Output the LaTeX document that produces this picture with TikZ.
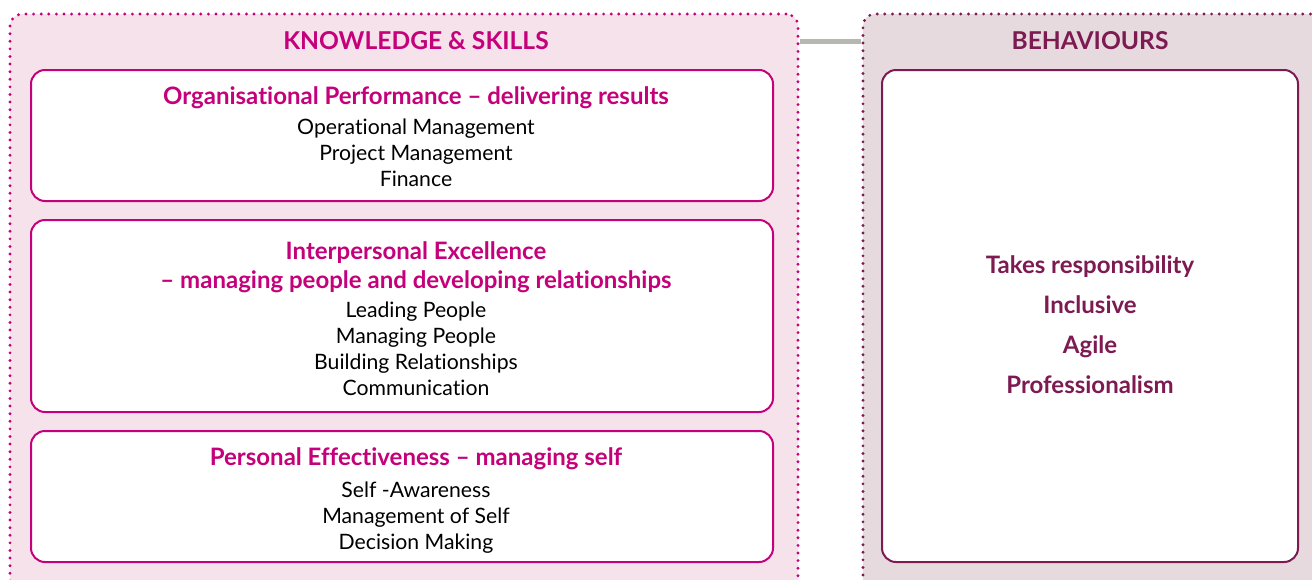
\documentclass[tikz,border=0pt]{standalone}
\usepackage{fontspec}
\setmainfont{Lato}[Ligatures=NoCommon]
\definecolor{ksmag}{HTML}{C4007A}
\definecolor{kspink}{HTML}{F5E2EB}
\definecolor{bhplum}{HTML}{7D1A51}
\definecolor{bhfill}{HTML}{E6DADF}
\definecolor{linkgray}{HTML}{B5B8B0}
\tikzset{
  outerbox/.style={draw, rounded corners=12pt, line width=3.2pt, line cap=round,
    dash pattern=on 0pt off 7.6pt, inner sep=0pt},
  innerbox/.style={draw, fill=white, rounded corners=14pt, line width=2pt,
    inner sep=0pt, align=center, minimum width=742pt},
  headtext/.style={font=\fontsize{24.6}{28}\selectfont\bfseries},
  area/.style={font=\fontsize{21.2}{26}\selectfont, align=center, inner sep=0pt}
}
\newcommand{\boxtitle}[1]{{\color{ksmag}\fontsize{24}{29}\selectfont\bfseries #1}}
\begin{document}
\begin{tikzpicture}[x=1pt,y=-1pt]
\useasboundingbox (0,0) rectangle (1312,579);
\clip (0,0) rectangle (1312,579);
% outer panels
\node[outerbox, color=ksmag, fill=kspink, minimum width=788pt, minimum height=586pt] (ks) at (404,307) {};
\node[outerbox, color=bhplum, fill=bhfill, minimum width=467pt, minimum height=586pt] (bh) at (1096.5,307) {};
\node[headtext, text=ksmag] (kshead) at (416,41) {KNOWLEDGE \& SKILLS};
\node[headtext, text=bhplum] (bhhead) at (1090,41) {BEHAVIOURS};
\draw[linkgray, line width=5pt] (kshead -| ks.east) -- (bhhead -| bh.west);
% knowledge and skills
\node[innerbox, draw=ksmag, minimum height=131pt] (perf) at (402,135.5) {};
\node[area] (perftext) at (416,136.5) {\boxtitle{Organisational Performance -- delivering results}\\[4pt]
  Operational Management\\ Project Management\\ Finance};
\node[innerbox, draw=ksmag, minimum height=192pt] (inter) at (402,316) {};
\node[area] (intertext) at (416,319) {\boxtitle{Interpersonal Excellence}\\[3pt]
  \boxtitle{-- managing people and developing relationships}\\[3pt]
  Leading People\\ Managing People\\ Building Relationships\\ Communication};
\node[innerbox, draw=ksmag, minimum height=131pt] (pers) at (402,496.5) {};
\node[area] (perstext) at (416,501) {\boxtitle{Personal Effectiveness -- managing self}\\[6pt]
  Self -Awareness\\ Management of Self\\ Decision Making};
% behaviours
\node[innerbox, draw=bhplum, minimum width=416pt, minimum height=492pt] (beh) at (1090,316) {};
\node[area, text=bhplum, font=\fontsize{24}{40}\selectfont\bfseries] (behtext) at (1090,325)
  {Takes responsibility\\ Inclusive\\ Agile\\ Professionalism};
\end{tikzpicture}
\end{document}
